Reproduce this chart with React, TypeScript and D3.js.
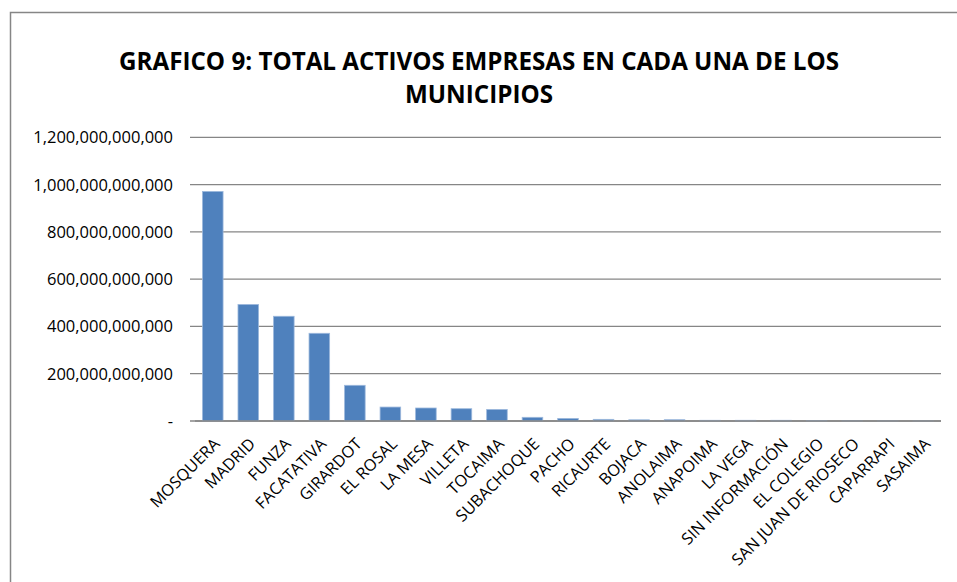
import React from "react";
import * as d3 from "d3";

const categories = [
  "MOSQUERA", "MADRID", "FUNZA", "FACATATIVA", "GIRARDOT", "EL ROSAL", "LA MESA",
  "VILLETA", "TOCAIMA", "SUBACHOQUE", "PACHO", "RICAURTE", "BOJACA", "ANOLAIMA",
  "ANAPOIMA", "LA VEGA", "SIN INFORMACIÓN", "EL COLEGIO", "SAN JUAN DE RIOSECO",
  "CAPARRAPI", "SASAIMA",
];
const values = [
  971e9, 493e9, 443e9, 371e9, 151e9, 59e9, 55e9, 52e9, 49e9, 15.6e9, 11e9,
  7e9, 5e9, 5.5e9, 3e9, 3e9, 3e9, 2.5e9, 0.8e9, 0.5e9, 0.3e9,
];
const yTicks = [0, 200e9, 400e9, 600e9, 800e9, 1000e9, 1200e9];
const titleLines = ["GRAFICO 9: TOTAL ACTIVOS EMPRESAS EN CADA UNA DE LOS", "MUNICIPIOS"];

const W = 957, H = 582;
const plot = { left: 195, right: 941, top: 137.3, bottom: 421 };
const FONT = "'Open Sans', sans-serif";

export default function App() {
  const x = d3.scaleBand<string>().domain(categories).range([plot.left, plot.right]).paddingInner(0.42).paddingOuter(0.21);
  const y = d3.scaleLinear().domain([0, 1200e9]).range([plot.bottom, plot.top]);
  const fmt = d3.format(",.0f");
  return (
    <svg width={W} height={H} style={{ position: "absolute", left: 0, top: 0, background: "#fff" }}>
      <rect x={10.5} y={12.5} width={980} height={600} fill="#fff" stroke="#868686" strokeWidth={1.5} />
      {titleLines.map((t, i) => (
        <text key={t} x={479} y={70 + i * 33} textAnchor="middle" fontFamily={FONT} fontWeight={700} fontSize={24.2} fill="#000">
          {t}
        </text>
      ))}
      {yTicks.map((t) => (
        <g key={t}>
          <line x1={plot.left - 5} x2={plot.right} y1={y(t)} y2={y(t)} stroke="#868686" strokeWidth={1.3} />
          <text x={173} y={y(t)} dy="0.36em" textAnchor="end" fontFamily={FONT} fontSize={16.5} fill="#000">
            {t === 0 ? "-" : fmt(t)}
          </text>
        </g>
      ))}
      {categories.map((c, i) => (
        <rect key={c} x={x(c)} y={y(values[i])} width={x.bandwidth()} height={plot.bottom - y(values[i])} fill="#4F81BD" stroke="#9db9dd" strokeWidth={0.8} />
      ))}
      <line x1={plot.left} x2={plot.right} y1={plot.bottom} y2={plot.bottom} stroke="#868686" strokeWidth={1.5} />
      {categories.map((c) => {
        const cx = (x(c) as number) + x.bandwidth() / 2;
        return (
          <text key={c} transform={`translate(${cx + 8},${plot.bottom + 24}) rotate(-45)`} textAnchor="end" fontFamily={FONT} fontSize={16.3} fill="#000">
            {c}
          </text>
        );
      })}
    </svg>
  );
}
